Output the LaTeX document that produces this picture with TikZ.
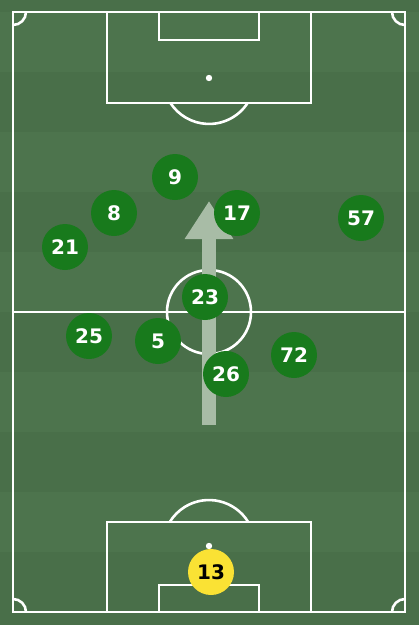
\documentclass[tikz,border=0pt]{standalone}
\usepackage{fontspec}
\setmainfont{Liberation Sans}
\newfontfamily\numfont{DejaVu Sans}
\usetikzlibrary{arrows.meta}
\definecolor{grass}{RGB}{73,111,73}
\definecolor{grasslight}{RGB}{77,116,77}
\definecolor{shirt}{RGB}{24,122,28}
\definecolor{keeper}{RGB}{250,226,52}
\definecolor{runcol}{RGB}{168,188,166}
\tikzstyle{pitchline} = [draw=white, line width=2.6pt]
\tikzstyle{player} = [circle, 
minimum size=46pt, 
inner sep=0pt, 
fill=shirt, 
text=white, 
font=\numfont\bfseries\fontsize{20}{20}\selectfont]
\tikzstyle{goalie} = [player, 
fill=keeper, 
text=black]
\tikzstyle{runarrow} = [draw=runcol, line width=14pt, -{Triangle[width=46pt,length=38pt]}]

\begin{document}
\begin{tikzpicture}[x=1pt,y=-1pt]

% Background
\fill[grass] (0,0) rectangle (419,625);
\foreach \s in {0,2,4,6,8} {
  \fill[grasslight] (0,12+\s*60) rectangle (419,72+\s*60);
}

% Pitch
\draw[pitchline] (13,12) rectangle (405,612);
\draw[pitchline] (13,312) -- (405,312);
\draw[pitchline] (209,312) circle (42);
\draw[pitchline] (107,12) rectangle (311,103);
\draw[pitchline] (159,12) rectangle (259,40);
\fill[white] (209,78) circle (3.2);
\draw[pitchline] (247.6,103) arc[start angle=33, end angle=147, radius=46];
\draw[pitchline] (107,612) rectangle (311,522);
\draw[pitchline] (159,612) rectangle (259,585);
\fill[white] (209,546) circle (3.2);
\draw[pitchline] (248.2,522) arc[start angle=-31.5, end angle=-148.5, radius=46];
\draw[pitchline] (13,25) arc[start angle=90, end angle=0, radius=13];
\draw[pitchline] (392,12) arc[start angle=180, end angle=90, radius=13];
\draw[pitchline] (26,612) arc[start angle=0, end angle=-90, radius=13];
\draw[pitchline] (405,599) arc[start angle=-90, end angle=-180, radius=13];

% Arrows
\coordinate (runstart) at (209,425);
\coordinate (runend) at (209,201);
\draw[runarrow] (runstart) -- (runend);

% Nodes
\node (p9) [player] at (175,177) {9};
\node (p8) [player] at (114,213) {8};
\node (p17) [player] at (237,213) {17};
\node (p57) [player] at (361,218) {57};
\node (p21) [player] at (65,247) {21};
\node (p23) [player] at (205,297) {23};
\node (p25) [player] at (89,336) {25};
\node (p5) [player] at (158,341) {5};
\node (p72) [player] at (294,355) {72};
\node (p26) [player] at (226,374) {26};
\node (p13) [goalie] at (211,572) {13};

\end{tikzpicture}
\end{document}
